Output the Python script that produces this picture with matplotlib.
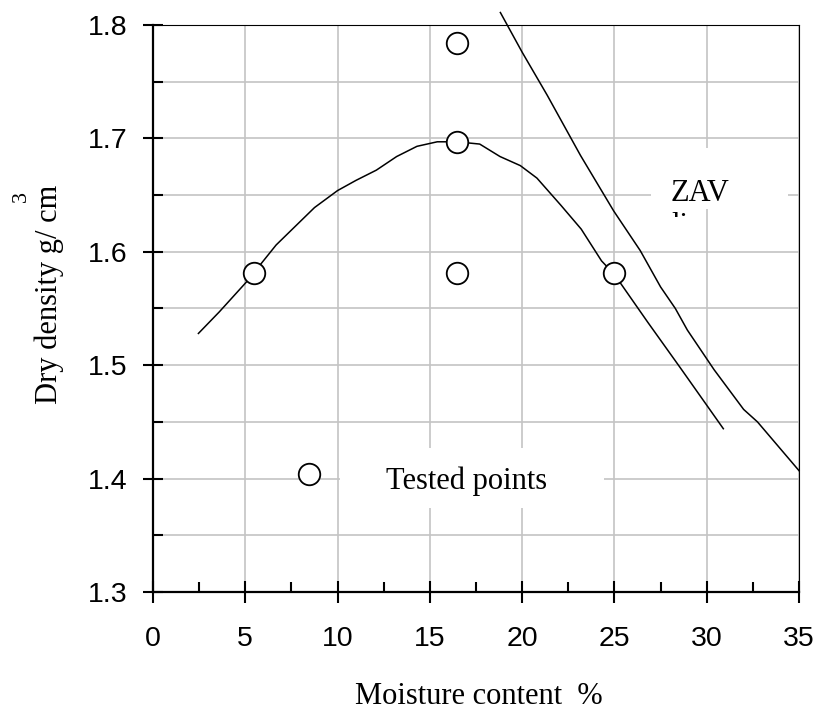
import matplotlib
matplotlib.use("Agg")
import matplotlib.pyplot as plt
from matplotlib.ticker import MultipleLocator
from matplotlib.patches import Rectangle

# Compaction curve
curve_x = [2.46, 3.59, 5.04, 6.67, 8.75, 10.0, 11.0, 12.1, 13.2, 14.3, 15.4, 16.45,
           17.7, 18.8, 19.9, 20.8, 22.1, 23.2, 24.3, 25.0, 26.8, 28.6, 30.9]
curve_y = [1.528, 1.547, 1.573, 1.606, 1.639, 1.654, 1.663, 1.672, 1.684, 1.693, 1.697, 1.697,
           1.695, 1.684, 1.676, 1.665, 1.641, 1.620, 1.592, 1.580, 1.538, 1.497, 1.444]

# Zero-air-voids line
zav_x = [18.82, 20.0, 21.36, 23.16, 24.96, 26.4, 27.5, 28.3, 28.95, 30.4, 32.0, 32.75, 35.0]
zav_y = [1.811, 1.776, 1.738, 1.685, 1.636, 1.601, 1.569, 1.550, 1.531, 1.496, 1.461, 1.450, 1.407]

# Tested points
pts_x = [5.45, 16.45, 16.45, 25.0, 16.45, 8.45]
pts_y = [1.581, 1.697, 1.581, 1.581, 1.784, 1.404]

x_ticks = [0, 5, 10, 15, 20, 25, 30, 35]
y_ticks = [1.3, 1.4, 1.5, 1.6, 1.7, 1.8]

SANS = "Liberation Sans"
SERIF = "Liberation Serif"

fig = plt.figure(figsize=(8.2, 7.1), dpi=100)
ax = fig.add_axes([0.1866, 0.1662, 0.7878, 0.7986])

ax.set_xlim(0, 35)
ax.set_ylim(1.3, 1.8)
ax.set_xticks(x_ticks)
ax.set_yticks(y_ticks)
ax.set_xticklabels([str(v) for v in x_ticks], fontfamily=SANS, fontsize=20.5)
ax.set_yticklabels([f"{v:.1f}" for v in y_ticks], fontfamily=SANS, fontsize=20.5)
ax.xaxis.set_minor_locator(MultipleLocator(2.5))
ax.yaxis.set_minor_locator(MultipleLocator(0.05))

ax.tick_params(axis="x", which="major", direction="inout", length=16, width=1.5, pad=16.5, colors="black")
ax.tick_params(axis="y", which="major", direction="inout", length=14.5, width=1.5, pad=11, colors="black")
ax.tick_params(which="minor", direction="in", length=7.2, width=1.5)

ax.grid(True, axis="x", which="major", color="#c4c4c4", lw=1.2, zorder=0)
ax.grid(True, axis="y", which="both", color="#c4c4c4", lw=1.2, zorder=0)
ax.set_axisbelow(True)

for s in ["left", "bottom"]:
    ax.spines[s].set_linewidth(1.6)
for s in ["top", "right"]:
    ax.spines[s].set_linewidth(0.8)

# white boxes behind labels
ax.add_patch(Rectangle((26.98, 1.6377), 34.4 - 26.98, 1.6915 - 1.6377, facecolor="white",
                       edgecolor="none", zorder=1.5))
ax.add_patch(Rectangle((10.13, 1.374), 24.43 - 10.13, 1.427 - 1.374, facecolor="white",
                       edgecolor="none", zorder=1.5))

ax.plot(curve_x, curve_y, color="black", lw=1.1, zorder=3)
ax.plot(zav_x, zav_y, color="black", lw=1.1, zorder=3, clip_on=False)
ax.plot(pts_x, pts_y, linestyle="none", marker="o", markersize=15.5, markerfacecolor="white",
        markeredgecolor="black", markeredgewidth=1.3, zorder=4)

ax.text(28.06, 1.6445, "ZAV", fontfamily=SERIF, fontsize=22, ha="left", va="baseline", zorder=5)
clip_rect = Rectangle((26.98, 1.631), 34.4 - 26.98, 1.6915 - 1.631, transform=ax.transData,
                      facecolor="none", edgecolor="none")
t2 = ax.text(28.06, 1.6157, "line", fontfamily=SERIF, fontsize=22, ha="left", va="baseline",
             zorder=5)
t2.set_clip_on(True)
t2.set_clip_path(clip_rect)

ax.text(12.62, 1.3908, "Tested points", fontfamily=SERIF, fontsize=22, ha="left", va="baseline",
        zorder=5)

fig.text(479 / 820, 1 - 697 / 710, "Moisture content  %", fontfamily=SERIF, fontsize=22,
         ha="center", va="center")
fig.text(49 / 820, 1 - 294 / 710, "Dry density g/ cm", fontfamily=SERIF, fontsize=22,
         ha="center", va="center", rotation=90)
fig.text(21 / 820, 1 - 197 / 710, "3", fontfamily=SERIF, fontsize=16,
         ha="center", va="center", rotation=90)

fig.savefig("out.png", dpi=100)
